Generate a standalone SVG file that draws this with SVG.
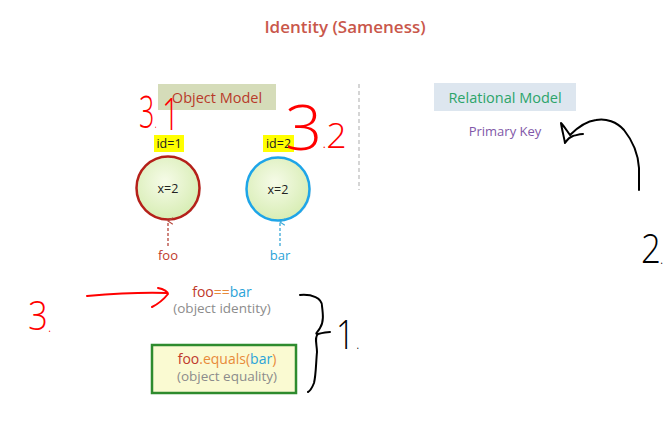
<svg xmlns="http://www.w3.org/2000/svg" width="664" height="440" viewBox="0 0 664 440">
<style>
.t{font-family:"Open Sans","Noto Sans",sans-serif}
.hw{font-family:"Open Sans","DejaVu Sans",sans-serif;font-weight:300}
.red{fill:#ff0000}
.blk{fill:#000}
.lbl{font-size:12.5px;fill:#222}
.cap{font-size:13.5px;fill:#8c8c8c}
.rd{fill:#c0392b}
.or{fill:#e88a3a}
.bl{fill:#2aa3d8}
.dot{font-size:16px}
</style>
<defs>
<radialGradient id="g" cx="0.45" cy="0.4" r="0.65">
<stop offset="0" stop-color="#f6fbe8"/>
<stop offset="1" stop-color="#d5ecb0"/>
</radialGradient>
<marker id="ar" viewBox="0 0 10 10" refX="5" refY="1" markerWidth="8" markerHeight="8" orient="auto-start-reverse" markerUnits="userSpaceOnUse">
<path d="M1 7 L5 1 L9 7" fill="none" stroke="context-stroke" stroke-width="1.3"/>
</marker>
</defs>
<rect width="664" height="440" fill="#fff"/>
<text class="t" x="345" y="33" text-anchor="middle" font-size="17" font-weight="600" fill="#c9574b">Identity (Sameness)</text>

<line x1="359" y1="84" x2="359" y2="190" stroke="#c8c8c8" stroke-width="1.5" stroke-dasharray="4 3"/>

<g id="objectModel">
<rect x="158" y="84" width="118" height="26" fill="#d5dcb9"/>
<text class="t" x="217" y="103" text-anchor="middle" font-size="14.5" fill="#b83a2a">Object Model</text>
</g>
<g id="relationalModel">
<rect x="434" y="83" width="142" height="28" fill="#dde6ef"/>
<text class="t" x="505" y="103" text-anchor="middle" font-size="14.5" fill="#2ca46a">Relational Model</text>
</g>
<g id="primaryKey">
<text class="t" x="505" y="136" text-anchor="middle" font-size="13" fill="#8157a8">Primary Key</text>
</g>

<g id="id1">
<rect x="154" y="135" width="30" height="17" fill="#ffff00"/>
<text class="t lbl" x="169" y="148" text-anchor="middle">id=1</text>
</g>
<g id="id2">
<rect x="263" y="135" width="31" height="17" fill="#ffff00"/>
<text class="t lbl" x="278.5" y="148" text-anchor="middle">id=2</text>
</g>

<g id="obj1">
<ellipse cx="169" cy="190" rx="32" ry="30" fill="#000" opacity="0.08"/>
<circle cx="168" cy="188" r="31.5" fill="url(#g)" stroke="#b5201a" stroke-width="2.5"/>
<text class="t lbl" x="168" y="192.5" text-anchor="middle" font-size="13">x=2</text>
</g>
<g id="obj2">
<ellipse cx="279" cy="191" rx="32" ry="30" fill="#000" opacity="0.08"/>
<circle cx="278" cy="189" r="31.5" fill="url(#g)" stroke="#1ea5e8" stroke-width="2.5"/>
<text class="t lbl" x="278" y="193.5" text-anchor="middle" font-size="13">x=2</text>
</g>

<g id="foo">
<text class="t rd" x="168" y="260" text-anchor="middle" font-size="13">foo</text>
</g>
<g id="bar">
<text class="t bl" x="280" y="260" text-anchor="middle" font-size="13">bar</text>
</g>

<g id="connectors">
<line x1="168" y1="246" x2="168" y2="221" stroke="#b5453a" stroke-width="1.3" stroke-dasharray="3 2" marker-end="url(#ar)"/>
<line x1="280" y1="246" x2="280" y2="222" stroke="#3aa8d8" stroke-width="1.3" stroke-dasharray="3 2" marker-end="url(#ar)"/>
</g>

<g id="identity">
<text class="t" x="222" y="297" text-anchor="middle" font-size="14"><tspan class="rd">foo</tspan><tspan class="or">==</tspan><tspan class="bl">bar</tspan></text>
<text class="t cap" x="222" y="313" text-anchor="middle">(object identity)</text>
</g>

<g id="equality">
<rect x="152" y="345" width="144" height="48" fill="#fafad2" stroke="#2e8b2e" stroke-width="2.5"/>
<text class="t" x="227" y="364" text-anchor="middle" font-size="14"><tspan class="rd">foo</tspan><tspan class="or">.equals(</tspan><tspan class="bl">bar</tspan><tspan class="or">)</tspan></text>
<text class="t cap" x="227" y="381" text-anchor="middle">(object equality)</text>
</g>

<g id="annotations" fill="none" stroke-linecap="round" stroke-linejoin="round">
<path d="M87 296 C110 294 140 292 167 293 M158 288 C164 289 168 292 168 294 C164 299 158 304 152 307" stroke="#ff0000" stroke-width="2"/>
<path d="M300 295 C312 294 322 298 322 306 C323 314 324 322 320 328 C318 332 314 334 318 334 C322 333 326 332 330 332 M318 334 C314 337 317 345 317 352 C316 362 316 375 314 383 C312 388 310 391 308 392" stroke="#000" stroke-width="2"/>
<path d="M639 190 L639 168 C638 152 632 140 624 130 C617 122 606 118 596 120 C588 121 578 127 570 135 M570 135 C567 131 564 126 561 123 C562 130 564 137 565 143 C567 140 570 137 573 136 C577 135 580 134 583 134" stroke="#000" stroke-width="2"/>
<text class="hw red" transform="translate(139 128) scale(0.6 1)" font-size="45">3<tspan class="dot" dx="0">.</tspan></text>
<text class="hw red" transform="translate(162 130) scale(0.7 1)" font-size="44">1</text>
<text class="hw red" transform="translate(285 150) scale(1.05 1)" font-size="62">3<tspan class="dot" dx="0" dy="-2">.</tspan><tspan font-size="34" dx="0" dy="0">2</tspan></text>
<text class="hw red" transform="translate(28 330) scale(0.85 1)" font-size="41">3<tspan class="dot" dx="0" dy="2">.</tspan></text>
<text class="hw blk" transform="translate(336 349) scale(0.8 1)" font-size="41">1<tspan class="dot" dx="2">.</tspan></text>
<text class="hw blk" transform="translate(641 263) scale(0.85 1)" font-size="41">2<tspan class="dot" dx="-1" dy="1">.</tspan></text>
</g>
</svg>
